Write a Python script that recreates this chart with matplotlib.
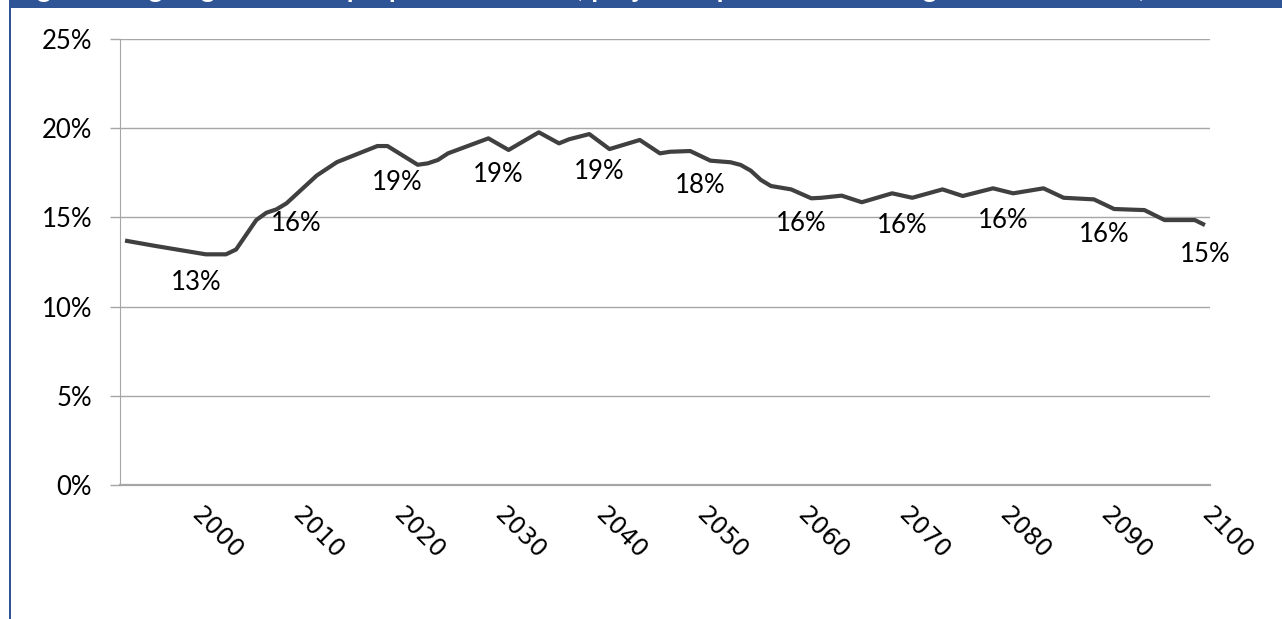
import numpy as np
import matplotlib
matplotlib.use('Agg')
import matplotlib.pyplot as plt
from matplotlib.patches import Rectangle

# data (vertices of the curve)
years = [1993, 1996, 2001, 2003, 2004, 2006, 2007, 2008, 2009, 2012, 2014, 2018, 2019,
         2022, 2023, 2024, 2025, 2029, 2031, 2034, 2036, 2037, 2039, 2041, 2044, 2046,
         2047, 2049, 2051, 2053, 2054, 2055, 2056, 2057, 2059, 2061, 2062, 2064, 2066,
         2069, 2071, 2074, 2076, 2079, 2081, 2084, 2086, 2089, 2091, 2094, 2096, 2099, 2100]
values = [13.7, 13.4, 12.93, 12.93, 13.2, 14.85, 15.26, 15.45, 15.79, 17.35, 18.1, 19.0, 19.0,
          17.95, 18.03, 18.22, 18.59, 19.43, 18.78, 19.77, 19.15, 19.38, 19.67, 18.83, 19.34, 18.59,
          18.68, 18.72, 18.18, 18.09, 17.94, 17.62, 17.1, 16.76, 16.57, 16.07, 16.1, 16.22, 15.85,
          16.35, 16.1, 16.57, 16.2, 16.63, 16.35, 16.63, 16.1, 16.01, 15.47, 15.41, 14.85, 14.85, 14.57]

label_years = [2000, 2010, 2020, 2030, 2040, 2050, 2060, 2070, 2080, 2090, 2100]
label_text = ['13%', '16%', '19%', '19%', '19%', '18%', '16%', '16%', '16%', '16%', '15%']

y_ticks = [0, 5, 10, 15, 20, 25]
y_tick_labels = ['0%', '5%', '10%', '15%', '20%', '25%']

title = 'Figure 4: Ageing costs as a proportion of GDP, projected path of the old-age ratio in Ireland, 1993-2100'

W, H = 1282, 619
fig = plt.figure(figsize=(W / 100, H / 100), dpi=100)
ax = fig.add_axes([120 / W, 1 - 485 / H, 1090 / W, 446 / H])

ax.plot(years, values, color='#404040', lw=3.0, solid_capstyle='butt', zorder=3)

ax.set_xlim(1992.5, 2100.5)
ax.set_ylim(0, 25)

# y axis
ax.set_yticks(y_ticks)
ax.set_yticklabels(y_tick_labels, fontsize=18.5, family=['Lato', 'DejaVu Sans'])
ax.yaxis.grid(True, color='#a6a6a6', lw=1.0)
ax.tick_params(axis='y', length=7, width=1.0, color='#a6a6a6', pad=13)

# x axis
ax.set_xticks(label_years)
ax.set_xticklabels([str(y) for y in label_years], rotation=-45, ha='left', va='center',
                   rotation_mode='anchor', fontsize=17.5,
                   family=['Liberation Sans Narrow', 'DejaVu Sans'])
ax.tick_params(axis='x', length=0, pad=19)

for s in ['top', 'right']:
    ax.spines[s].set_visible(False)
ax.spines['left'].set_color('#a6a6a6')
ax.spines['bottom'].set_color('#a6a6a6')
ax.spines['bottom'].set_linewidth(1.6)
ax.set_axisbelow(True)

# data labels under the line
for yr, txt in zip(label_years, label_text):
    v = np.interp(yr, years, values)
    ax.annotate(txt, (yr, v), xytext=(0, -21.5), textcoords='offset points',
                ha='center', va='center', fontsize=18.5, family=['Lato', 'DejaVu Sans'],
                color='black', annotation_clip=False)

# frame: blue title band (cut off, as in the source) and left border
fig.add_artist(Rectangle((9 / W, 1 - 8 / H), 1, 8 / H, transform=fig.transFigure,
                         color='#2F5597', lw=0))
fig.add_artist(Rectangle((9 / W, 0), 2 / W, 1, transform=fig.transFigure,
                         color='#2F5597', lw=0))
fig.text(14 / W, 1 + 3 / H, title, color='white', fontsize=20, fontweight='bold',
         family=['Lato', 'DejaVu Sans'], ha='left', va='baseline')

fig.savefig('out.png', dpi=100)
